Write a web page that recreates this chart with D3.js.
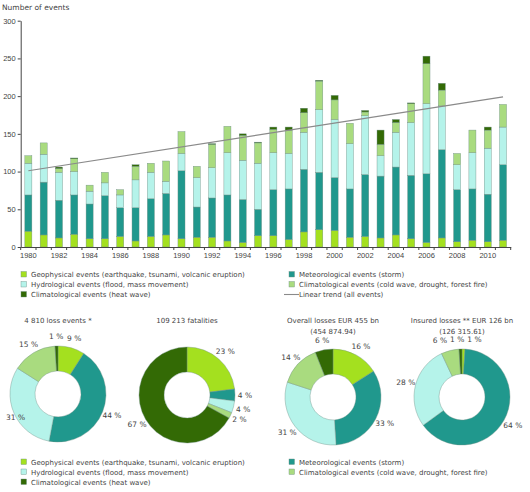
<!DOCTYPE html>
<html>
<head>
<meta charset="utf-8">
<script src="https://cdn.jsdelivr.net/npm/d3@7"></script>
<style>
  body { margin: 0; background: #fff; }
  svg { display: block; font-family: "DejaVu Sans", Verdana, sans-serif; }
  text { fill: #444; }
</style>
</head>
<body>
<div id="chart"></div>
<script>
// ---- data ----
const years = [1980, 1981, 1982, 1983, 1984, 1985, 1986, 1987, 1988, 1989,
  1990, 1991, 1992, 1993, 1994, 1995, 1996, 1997, 1998, 1999,
  2000, 2001, 2002, 2003, 2004, 2005, 2006, 2007, 2008, 2009, 2010, 2011];
const geophysical = [21, 16, 12, 17, 11, 11, 14, 8, 14, 16, 11, 13, 13, 8, 6, 15, 15, 10, 20, 23,
  22, 13, 14, 12, 16, 11, 6, 12, 7, 9, 7, 9];
const meteorological = [48, 70, 50, 52, 46, 57, 38, 44, 50, 55, 90, 40, 52, 61, 57, 35, 61, 67, 83, 76,
  70, 64, 82, 82, 90, 84, 91, 117, 69, 68, 63, 100];
const hydrological = [42, 37, 37, 31, 17, 17, 17, 37, 35, 16, 23, 39, 40, 56, 52, 61, 49, 47, 49, 83,
  77, 60, 78, 27, 46, 70, 93, 58, 33, 48, 61, 50];
const coldWave = [10, 15, 5, 17, 8, 14, 7, 18, 12, 27, 29, 15, 31, 35, 33, 27, 31, 31, 26, 38,
  26, 27, 5, 15, 13, 25, 53, 21, 15, 30, 24, 30];
const heatWave = [0, 0, 2, 1, 0, 0, 0, 2, 0, 0, 0, 0, 1, 0, 2, 1, 3, 4, 6, 1,
  6, 0, 2, 19, 4, 1, 10, 9, 0, 0, 4, 0];
const trendValues = [101, 199]; // linear trend at 1980 and 2011
const yTicks = [0, 50, 100, 150, 200, 250, 300];

const seriesNames = [
  "Geophysical events (earthquake, tsunami, volcanic eruption)",
  "Meteorological events (storm)",
  "Hydrological events (flood, mass movement)",
  "Climatological events (cold wave, drought, forest fire)",
  "Climatological events (heat wave)"
];
const trendName = "Linear trend (all events)";

const donutTitles = [
  ["4 810 loss events *"],
  ["109 213 fatalities"],
  ["Overall losses EUR 455 bn", "(454 874.94)"],
  ["Insured losses ** EUR 126 bn", "(126 315.61)"]
];
const lossEventsPct = [9, 44, 31, 15, 1];
const fatalitiesPct = [23, 4, 4, 2, 67];
const overallLossesPct = [16, 33, 31, 14, 6];
const insuredLossesPct = [1, 64, 28, 6, 1];

// ---- style ----
const keys = ["geo", "met", "hyd", "cold", "heat"];
const colors = ["#a4e01f", "#20988d", "#b5f3ea", "#a9db7f", "#336a05"];
const color = d3.scaleOrdinal().domain(keys).range(colors);
const outline = "#6f8f85";

const width = 530, height = 492;
const svg = d3.select("#chart").append("svg")
  .attr("width", width).attr("height", height);

// ---- bar chart ----
const x = d3.scaleBand().domain(years).range([20.7, 510.7])
  .paddingInner(0.54).paddingOuter(0.27);
const y = d3.scaleLinear().domain([0, 300]).range([247, 20.7]);

const table = years.map((yr, i) => ({
  year: yr, geo: geophysical[i], met: meteorological[i], hyd: hydrological[i],
  cold: coldWave[i], heat: heatWave[i]
}));
const stacked = d3.stack().keys(keys)(table);

svg.append("text").attr("x", 2).attr("y", 10)
  .style("font-size", "7.5px").text("Number of events");

svg.append("g").selectAll("g")
  .data(stacked).join("g")
  .attr("fill", d => color(d.key))
  .selectAll("rect")
  .data(d => d.filter(s => s[1] - s[0] > 0)).join("rect")
  .attr("x", d => x(d.data.year))
  .attr("width", x.bandwidth())
  .attr("y", d => y(d[1]))
  .attr("height", d => y(d[0]) - y(d[1]))
  .attr("stroke", outline).attr("stroke-width", 0.4);

// y axis
const yAxis = svg.append("g").attr("transform", `translate(${x.range()[0]},0)`)
  .call(d3.axisLeft(y).tickValues(yTicks).tickSize(3).tickSizeOuter(0).tickPadding(2));
yAxis.select(".domain").attr("stroke", "#444");
yAxis.selectAll(".tick line").attr("stroke", "#444");
yAxis.selectAll("text").style("font-size", "7.5px").attr("fill", "#444");

// x axis: labels every second year, ticks between bars
const xAxis = svg.append("g").attr("transform", `translate(0,${y(0)})`)
  .call(d3.axisBottom(x).tickSize(0).tickPadding(6)
    .tickFormat(d => d % 2 === 0 ? d : ""));
xAxis.select(".domain").attr("stroke", "#444");
xAxis.selectAll("text").style("font-size", "7.5px").attr("fill", "#444");
xAxis.selectAll(".sep").data(years.concat([null])).join("line")
  .attr("class", "sep")
  .attr("x1", (d, i) => x.range()[0] + i * x.step())
  .attr("x2", (d, i) => x.range()[0] + i * x.step())
  .attr("y1", 0).attr("y2", 3).attr("stroke", "#444");

// trend line
const trendPts = [[years[0], trendValues[0]], [years[years.length - 1], trendValues[1]]];
svg.append("path")
  .attr("d", d3.line().x(d => x(d[0]) + x.bandwidth() / 2).y(d => y(d[1]))(trendPts))
  .attr("stroke", "#8a8a8a").attr("stroke-width", 1.1).attr("fill", "none");

// ---- legends ----
function legend(yTop, withTrend) {
  const items = [
    { i: 0, lx: 21, ly: yTop },
    { i: 2, lx: 21, ly: yTop + 10 },
    { i: 4, lx: 21, ly: yTop + 20 },
    { i: 1, lx: 289, ly: yTop },
    { i: 3, lx: 289, ly: yTop + 10 }
  ];
  const g = svg.append("g");
  const it = g.selectAll("g").data(items).join("g")
    .attr("transform", d => `translate(${d.lx},${d.ly})`);
  it.append("rect").attr("x", 0).attr("y", -3).attr("width", 5.5).attr("height", 5.5)
    .attr("fill", d => colors[d.i]).attr("stroke", outline).attr("stroke-width", 0.4);
  it.append("text").attr("x", 10).attr("y", 2.5)
    .style("font-size", "7px").text(d => seriesNames[d.i]);
  if (withTrend) {
    g.append("line").attr("x1", 284).attr("x2", 299)
      .attr("y1", yTop + 20).attr("y2", yTop + 20)
      .attr("stroke", "#8a8a8a").attr("stroke-width", 1.1);
    g.append("text").attr("x", 299).attr("y", yTop + 22.5)
      .style("font-size", "7px").text(trendName);
  }
}
legend(274.5, true);
legend(462, false);

// ---- donuts ----
const donutData = [lossEventsPct, fatalitiesPct, overallLossesPct, insuredLossesPct];
const donutCenters = [[58, 394], [187, 395], [333, 397], [462, 397]];
const rOuter = 48, rInner = 23;
const pie = d3.pie().sort(null).value(d => d);
const arc = d3.arc().innerRadius(rInner).outerRadius(rOuter);
const labelArc = d3.arc().innerRadius(58).outerRadius(58);

donutData.forEach((vals, k) => {
  const [cx, cy] = donutCenters[k];
  const g = svg.append("g").attr("transform", `translate(${cx},${cy})`);

  g.selectAll("text.title").data(donutTitles[k]).join("text")
    .attr("class", "title")
    .attr("x", 0).attr("y", (d, i) => 323 - cy + i * 10.5)
    .attr("text-anchor", "middle").style("font-size", "7px").text(d => d);

  const arcs = pie(vals);
  g.selectAll("path").data(arcs).join("path")
    .attr("d", arc).attr("fill", (d, i) => colors[i])
    .attr("stroke", outline).attr("stroke-width", 0.4);

  const labels = g.selectAll("text.lbl").data(arcs).join("text")
    .attr("class", "lbl")
    .attr("text-anchor", "middle").attr("dy", "0.35em")
    .style("font-size", "7.5px").text(d => d.data + " %");

  // place on centroid, then push overlapping labels apart horizontally
  const pos = arcs.map((d, i) => {
    const c = labelArc.centroid(d);
    const w = labels.nodes()[i].getComputedTextLength();
    return { x: c[0], y: c[1], w };
  });
  for (let iter = 0; iter < 30; iter++) {
    for (let a = 0; a < pos.length; a++) {
      for (let b = a + 1; b < pos.length; b++) {
        const p = pos[a], q = pos[b];
        const need = (p.w + q.w) / 2 + 3;
        if (Math.abs(p.y - q.y) < 9 && Math.abs(p.x - q.x) < need) {
          const push = (need - Math.abs(p.x - q.x)) / 2;
          const s = p.x <= q.x ? -1 : 1;
          p.x += s * push; q.x -= s * push;
        }
      }
    }
  }
  // keep labels inside the picture
  pos.forEach(p => {
    p.x = Math.max(p.w / 2 + 6 - cx, Math.min(width - p.w / 2 - 4 - cx, p.x));
  });
  labels.attr("x", (d, i) => pos[i].x).attr("y", (d, i) => pos[i].y);
});
</script>
</body>
</html>
